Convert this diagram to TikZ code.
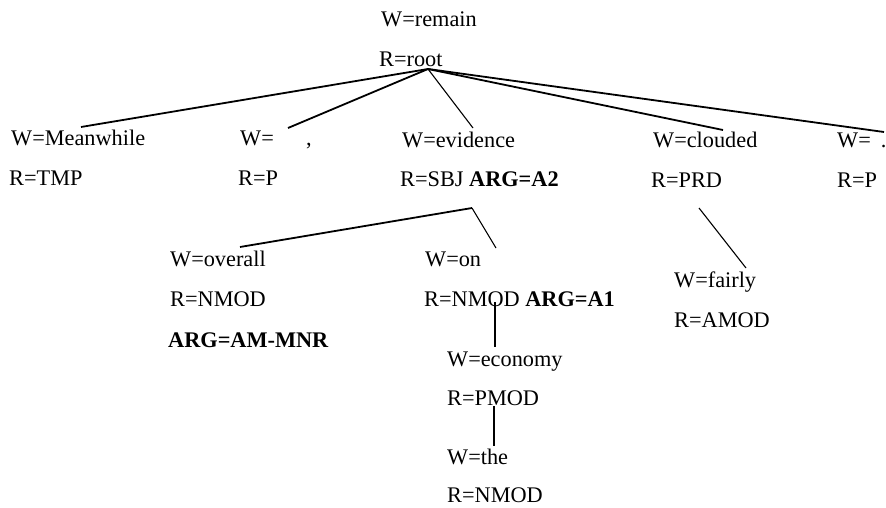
\documentclass[tikz,border=0pt]{standalone}
\usepackage{fontspec}
\setmainfont{Liberation Serif}
\usepackage{tikz}

\tikzset{
  lbl/.style={anchor=base west,inner sep=0pt,font=\fontsize{22.3}{26}\selectfont},
  link/.style={line width=1.1pt},
  heavy link/.style={line width=1.8pt}
}

\begin{document}
\begin{tikzpicture}[x=1pt,y=-1pt]
  \useasboundingbox (0,0) rectangle (886,508);
  % root
  \node[lbl] (remainW) at (381,27) {W=remain};
  \node[lbl] (remainR) at (379,67) {R=root};
  % first level
  \node[lbl] (mwW) at (11,146) {W=Meanwhile};
  \node[lbl] (mwR) at (9,185) {R=TMP};
  \node[lbl] (commaW) at (240,146) {W=\hspace{1.45em},};
  \node[lbl] (commaR) at (238,185) {R=P};
  \node[lbl] (evW) at (402,147) {W=evidence};
  \node[lbl] (evR) at (400,186) {R=SBJ \textbf{ARG=A2}};
  \node[lbl] (clW) at (653,148) {W=clouded};
  \node[lbl] (clR) at (651,187) {R=PRD};
  \node[lbl] (perW) at (837,147) {W=\hspace{0.45em}.};
  \node[lbl] (perR) at (837,187) {R=P};
  % second level
  \node[lbl] (ovW) at (170,266) {W=overall};
  \node[lbl] (ovR) at (170,306) {R=NMOD};
  \node[lbl] (ovA) at (168,347) {\textbf{ARG=AM-MNR}};
  \node[lbl] (onW) at (425,266) {W=on};
  \node[lbl] (onR) at (424,306) {R=NMOD \textbf{ARG=A1}};
  \node[lbl] (faW) at (674,287) {W=fairly};
  \node[lbl] (faR) at (674,327) {R=AMOD};
  % third and fourth level
  \node[lbl] (ecW) at (447,366) {W=economy};
  \node[lbl] (ecR) at (447,405) {R=PMOD};
  \node[lbl] (thW) at (447,464) {W=the};
  \node[lbl] (thR) at (447,502) {R=NMOD};

  \coordinate (rootpt) at ([xshift=49pt,yshift=-2pt]remainR.base west);
  \coordinate (evpt) at ([xshift=72pt,yshift=-22pt]evR.base west);
  \coordinate (clpt) at ([xshift=48pt,yshift=-21pt]clR.base west);

  \draw[heavy link] (rootpt) -- ([xshift=70pt,yshift=19pt]mwW.base west);
  \draw[heavy link] (rootpt) -- ([xshift=48pt,yshift=18pt]commaW.base west);
  \draw[link] (rootpt) -- ([xshift=71pt,yshift=19pt]evW.base west);
  \draw[heavy link] (rootpt) -- ([xshift=70pt,yshift=18pt]clW.base west);
  \draw[heavy link] (rootpt) -- ([xshift=47pt,yshift=15pt]perW.base west);
  \draw[heavy link] (evpt) -- ([xshift=70pt,yshift=19pt]ovW.base west);
  \draw[link] (evpt) -- ([xshift=71pt,yshift=18pt]onW.base west);
  \draw[link] (clpt) -- ([xshift=72pt,yshift=19pt]faW.base west);
  \draw[link] ([xshift=71pt,yshift=4pt]onR.base west)
    -- ([xshift=48pt,yshift=19pt]ecW.base west);
  \draw[link] ([xshift=47pt,yshift=-1pt]ecR.base west)
    -- ([xshift=47pt,yshift=18pt]thW.base west);
\end{tikzpicture}
\end{document}
